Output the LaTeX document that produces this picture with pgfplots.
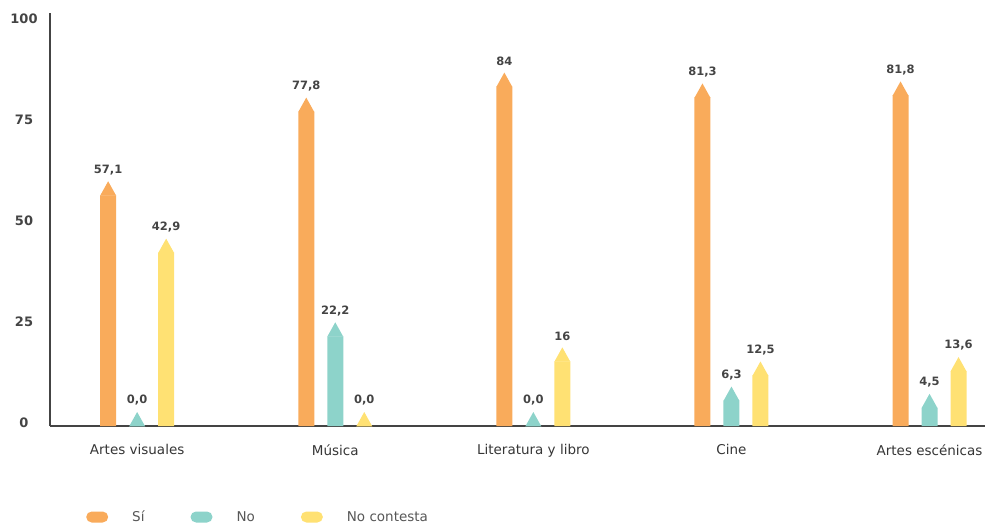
\documentclass[border=0pt]{standalone}
\usepackage{fontspec}
\setmainfont{DejaVu Sans}
\usepackage{pgfplots}
\usepackage{pgfplotstable}
\pgfplotsset{compat=1.18}
\definecolor{csi}{HTML}{F9AB5B}
\definecolor{cno}{HTML}{8DD3CA}
\definecolor{cnc}{HTML}{FFE173}
\definecolor{txt}{HTML}{444444}
\pgfdeclareplotmark{tip}{%
 \pgfpathmoveto{\pgfqpoint{-8pt}{-0.4pt}}%
 \pgfpathlineto{\pgfqpoint{8pt}{-0.4pt}}%
 \pgfpathlineto{\pgfqpoint{0pt}{14pt}}%
 \pgfpathclose\pgfusepathqfill}

\pgfplotstableread{
x si no nc lsi lno lnc
0 57.1 0.0 42.9 57,1 0,0 42,9
1 77.8 22.2 0.0 77,8 22,2 0,0
2 84 0.0 16 84 0,0 16
3 81.3 6.3 12.5 81,3 6,3 12,5
4 81.8 4.5 13.6 81,8 4,5 13,6
}\data

\pgfplotsset{
  tipplot/.style={only marks, mark=tip, color=#1, fill=#1, forget plot,
    point meta=explicit symbolic, nodes near coords,
    every node near coord/.append style={anchor=south, yshift=17pt,
      font=\bfseries\fontsize{11.5}{13}\selectfont, text=txt}},
  pill/.style={legend image code/.code={%
    \fill[rounded corners=5.5pt] (0pt,-5.5pt) rectangle (22pt,5.5pt);
    \path (46pt,0pt);}},
}

\begin{document}
\begin{tikzpicture}
\path[use as bounding box] (-50pt,-99pt) rectangle (937pt,426pt);
\begin{axis}[
  scale only axis, width=935pt, height=413pt,
  xmin=-0.44, xmax=4.28, ymin=0, ymax=102.2,
  axis x line=bottom, axis y line=left,
  axis line style={-, draw=txt, line width=1.1pt},
  major tick length=0pt,
  xtick={0,1,2,3,4},
  xticklabels={Artes visuales, Música, Literatura y libro, Cine, Artes escénicas},
  ytick={0,25,50,75,100}, yticklabels={0,25,50,75,100},
  xticklabel style={font=\fontsize{13.5}{16}\selectfont, text=txt!80!black, yshift=-15pt},
  yticklabel style={font=\bfseries\fontsize{13}{15}\selectfont, text=txt, anchor=center, xshift=-26pt, yshift=3pt},
  clip=false,
  legend columns=3,
  legend style={at={(0,0)}, anchor=west, xshift=36pt, yshift=-91pt,
    draw=none, fill=none, inner sep=0pt,
    font=\fontsize{13.5}{16}\selectfont, text=txt!90,
    nodes={inner sep=0pt},
    /tikz/every even column/.append style={column sep=46pt}},
]
\addplot[ybar, bar width=16pt, bar shift=-29pt, fill=csi, draw=none, pill] table[x=x,y=si]{\data};
\addlegendentry{Sí}
\addplot[ybar, bar width=16pt, bar shift=0pt, fill=cno, draw=none, pill] table[x=x,y=no]{\data};
\addlegendentry{No}
\addplot[ybar, bar width=16pt, bar shift=29pt, fill=cnc, draw=none, pill] table[x=x,y=nc]{\data};
\addlegendentry{No contesta}

\addplot[tipplot=csi, mark options={xshift=-29pt}] table[x=x,y=si,meta=lsi]{\data};
\addplot[tipplot=cno] table[x=x,y=no,meta=lno]{\data};
\addplot[tipplot=cnc, mark options={xshift=29pt}] table[x=x,y=nc,meta=lnc]{\data};
\end{axis}
\end{tikzpicture}
\end{document}
